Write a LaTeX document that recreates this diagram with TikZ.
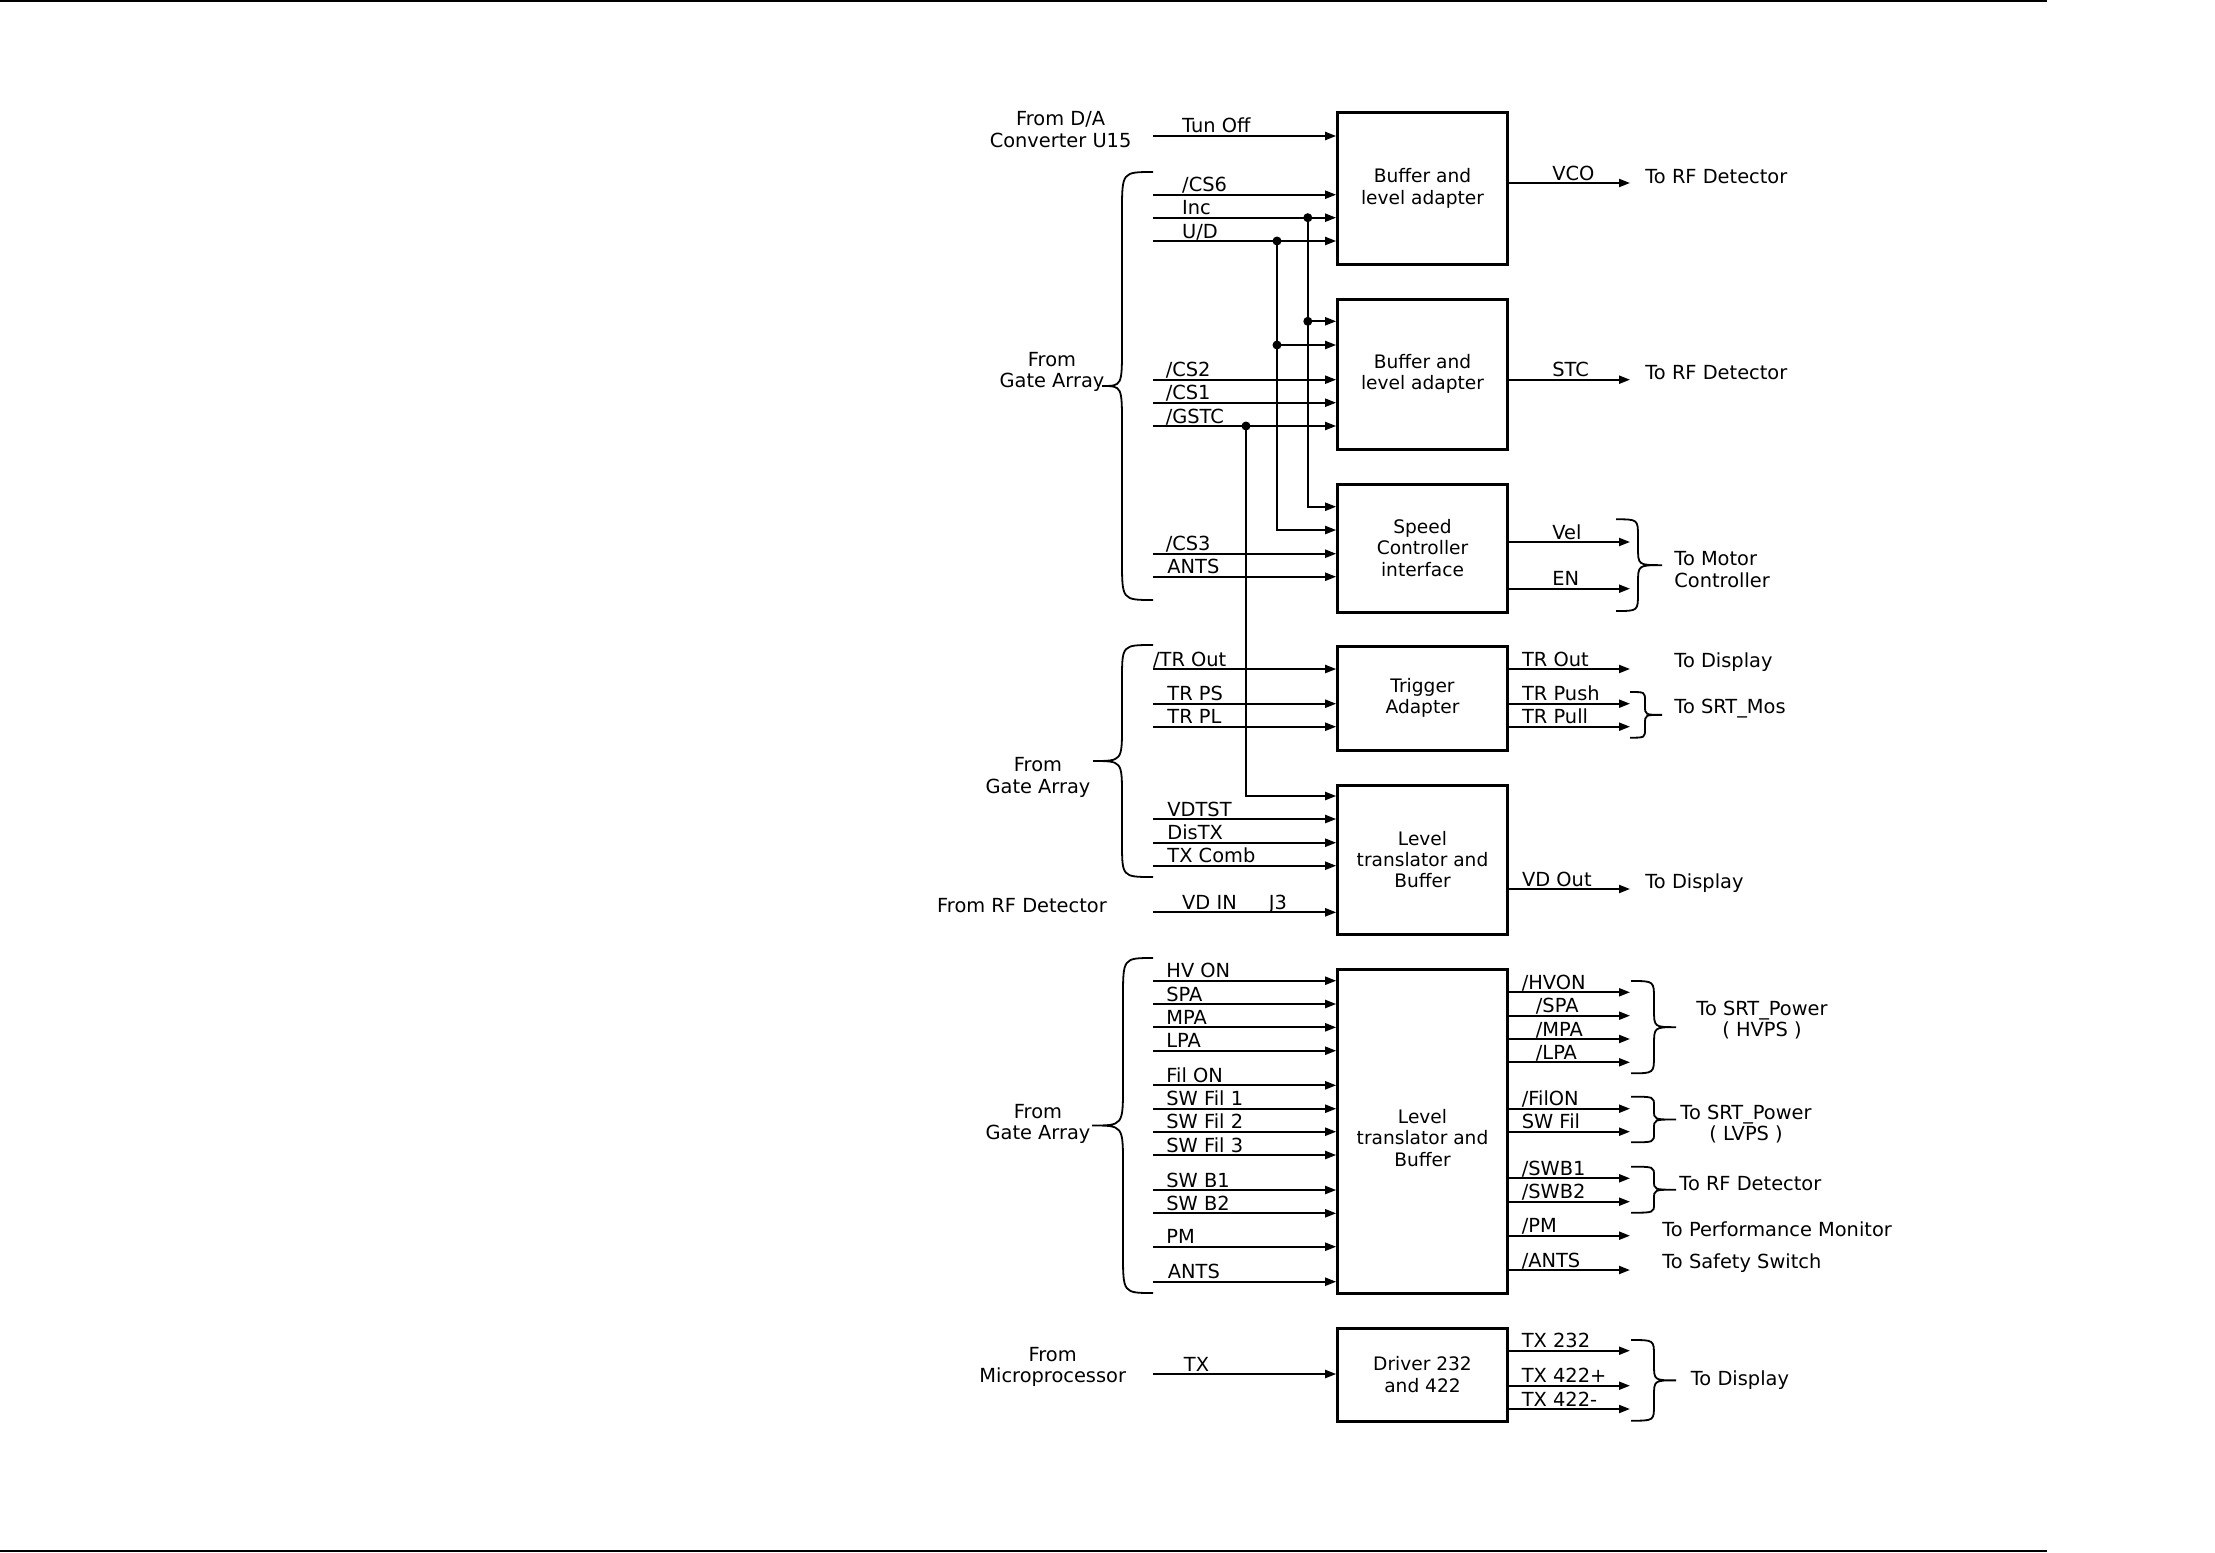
\documentclass[tikz,border=0pt]{standalone}
\usepackage{fontspec}
\setmainfont{DejaVu Sans}
\usetikzlibrary{arrows.meta}
\newcommand\sigin[5]{\coordinate (#1) at (1153,#2); \draw[sig] (#1) -- (#1 -| #5.west); \node[lbl] at (#3,#2) {#4};}
\newcommand\sigout[5]{\coordinate (#1) at (1630,#2); \draw[sig] (#1 -| #5.east) -- (#1); \node[lbl] at (#3,#2) {#4};}
\newcommand\brc[6]{\draw[brcline] (#1,#4) .. controls (#2,#4) .. (#2,#4+#6) -- (#2,{(#4+#5)/2-#6}) .. controls (#2,{(#4+#5)/2}) .. (#3,{(#4+#5)/2}) .. controls (#2,{(#4+#5)/2}) .. (#2,{(#4+#5)/2+#6}) -- (#2,#5-#6) .. controls (#2,#5) .. (#1,#5);}
\begin{document}
\begin{tikzpicture}[x=0.5pt,y=-0.5pt,
  font=\fontsize{9.3}{10.7}\selectfont,
  sig/.style={line width=1pt,-{Triangle[length=5.5pt,width=4pt]}},
  wire/.style={line width=1pt},
  box/.style={draw,line width=1.5pt,minimum width=84.8pt,align=center,inner sep=0pt},
  lbl/.style={anchor=base west,inner sep=0pt,yshift=1.5pt,font=\fontsize{9.7}{10.7}\selectfont},
  txt/.style={align=center,inner sep=0pt,font=\fontsize{9.7}{10.7}\selectfont},
  ltxt/.style={align=left,anchor=west,inner sep=0pt,font=\fontsize{9.7}{10.7}\selectfont},
  brcline/.style={line width=0.9pt},
  dot/.style={circle,fill,inner sep=0pt,minimum size=4.5pt}]
\useasboundingbox (0,0) rectangle (2215,1552);
\draw[line width=1.2pt] (0,1) -- (2047,1);
\draw[line width=1.2pt] (0,1551) -- (2047,1551);

% boxes
\node[box,minimum height=75.5pt] (b1) at (1422.5,188.5) {Buffer and\\level adapter};
\node[box,minimum height=75pt] (b2) at (1422.5,374) {Buffer and\\level adapter};
\node[box,minimum height=64pt] (b3) at (1422.5,548) {Speed\\Controller\\interface};
\node[box,minimum height=52pt] (b4) at (1422.5,698) {Trigger\\Adapter};
\node[box,minimum height=74.5pt] (b5) at (1422.5,859.5) {Level\\translator and\\Buffer};
\node[box,minimum height=162pt] (b6) at (1422.5,1131) {};
\node[align=center,inner sep=0pt] (b6t) at (1422.5,1138) {Level\\translator and\\Buffer};
\node[box,minimum height=46.5pt] (b7) at (1422.5,1374.5) {Driver 232\\and 422};

% inputs
\sigin{iTun}{136}{1181.8}{Tun Off}{b1}
\sigin{iCS6}{194.7}{1181.8}{/CS6}{b1}
\sigin{iInc}{217.7}{1181.8}{Inc}{b1}
\sigin{iUD}{241}{1181.8}{U/D}{b1}
\sigin{iCS2}{379.7}{1165.4}{/CS2}{b2}
\sigin{iCS1}{402.7}{1165.4}{/CS1}{b2}
\sigin{iGS}{426}{1165.4}{/GSTC}{b2}
\sigin{iCS3}{553.7}{1165.4}{/CS3}{b3}
\sigin{iANT}{576.7}{1167}{ANTS}{b3}
\sigin{iTRO}{669}{1152.7}{/TR Out}{b4}
\sigin{iTRPS}{703.7}{1167}{TR PS}{b4}
\sigin{iTRPL}{726.7}{1167}{TR PL}{b4}
\sigin{iVDT}{819}{1167}{VDTST}{b5}
\sigin{iDis}{842.7}{1167}{DisTX}{b5}
\sigin{iTXC}{865.7}{1167}{TX Comb}{b5}
\sigin{iVDI}{912.3}{1181.8}{VD IN}{b5}
\node[lbl] (j3) at (1268.5,912.3) {J3};
\sigin{iHV}{980.7}{1166}{HV ON}{b6}
\sigin{iSPA}{1004}{1166}{SPA}{b6}
\sigin{iMPA}{1027.3}{1166}{MPA}{b6}
\sigin{iLPA}{1050.7}{1166}{LPA}{b6}
\sigin{iFil}{1085.3}{1166}{Fil ON}{b6}
\sigin{iSW1}{1108.7}{1166}{SW Fil 1}{b6}
\sigin{iSW2}{1131.7}{1166}{SW Fil 2}{b6}
\sigin{iSW3}{1155}{1166}{SW Fil 3}{b6}
\sigin{iB1}{1190}{1166}{SW B1}{b6}
\sigin{iB2}{1213.3}{1166}{SW B2}{b6}
\sigin{iPM}{1246.7}{1166}{PM}{b6}
\sigin{iANT2}{1281.7}{1167.5}{ANTS}{b6}
\sigin{iTX}{1374}{1183.5}{TX}{b7}

% branches
\node[dot] (dInc) at (1307.8,217.7) {};
\node[dot] (dUD) at (1277,241) {};
\node[dot] (dGS) at (1246,426) {};
\node[dot] (dInc2) at (1307.8,321.3) {};
\node[dot] (dUD2) at (1277,345) {};
\coordinate (cInc3) at (1307.8,506.7);
\coordinate (cUD3) at (1277,530);
\coordinate (cGS5) at (1246,796);
\draw[sig] (dInc.center) -- (cInc3) -- (cInc3 -| b3.west);
\draw[sig] (dUD.center) -- (cUD3) -- (cUD3 -| b3.west);
\draw[sig] (dGS.center) -- (cGS5) -- (cGS5 -| b5.west);
\draw[sig] (dInc2.center) -- (dInc2.center -| b2.west);
\draw[sig] (dUD2.center) -- (dUD2.center -| b2.west);

% outputs
\sigout{oVCO}{183}{1552}{VCO}{b1}
\sigout{oSTC}{379.7}{1552}{STC}{b2}
\sigout{oVel}{542}{1552}{Vel}{b3}
\sigout{oEN}{588.7}{1552}{EN}{b3}
\sigout{oTRO}{669}{1521.7}{TR Out}{b4}
\sigout{oTRP}{703.7}{1521.7}{TR Push}{b4}
\sigout{oTRL}{726.7}{1521.7}{TR Pull}{b4}
\sigout{oVDO}{889}{1521.7}{VD Out}{b5}
\sigout{oHV}{992.3}{1521.4}{/HVON}{b6}
\sigout{oSPA}{1015.7}{1535.5}{/SPA}{b6}
\sigout{oMPA}{1039}{1535.5}{/MPA}{b6}
\sigout{oLPA}{1062.3}{1535.5}{/LPA}{b6}
\sigout{oFil}{1108.7}{1521.4}{/FilON}{b6}
\sigout{oSWF}{1131.7}{1521.4}{SW Fil}{b6}
\sigout{oB1}{1178.3}{1521.4}{/SWB1}{b6}
\sigout{oB2}{1201.7}{1521.4}{/SWB2}{b6}
\sigout{oPM}{1235.7}{1521.4}{/PM}{b6}
\sigout{oANT}{1270}{1521.4}{/ANTS}{b6}
\sigout{oT1}{1350.7}{1521.4}{TX 232}{b7}
\sigout{oT2}{1385.7}{1521.4}{TX 422+}{b7}
\sigout{oT3}{1409}{1521.4}{TX 422-}{b7}

% left texts
\node[txt] (tDA) at (1060.6,129.5) {From D/A\\Converter U15};
\node[txt] (tGA1) at (1052,372) {From\\Gate Array};
\node[txt] (tGA2) at (1038,777.5) {From\\Gate Array};
\node[txt] (tRF) at (1022,906) {From RF Detector};
\node[txt] (tGA3) at (1038,1124) {From\\Gate Array};
\node[txt] (tMP) at (1052.7,1367) {From\\Microprocessor};

% right texts
\node[ltxt] (r1) at (1645,177) {To RF Detector};
\node[ltxt] (r2) at (1645,373) {To RF Detector};
\node[ltxt] (r3) at (1674,569.5) {To Motor\\Controller};
\node[ltxt] (r4) at (1674,662.3) {To Display};
\node[ltxt] (r5) at (1674,708.3) {To SRT\_Mos};
\node[ltxt] (r6) at (1645,883.3) {To Display};
\node[txt] (r7) at (1762,1020) {To SRT\_Power\\( HVPS )};
\node[txt] (r8) at (1746,1124) {To SRT\_Power\\( LVPS )};
\node[ltxt] (r9) at (1679,1183.3) {To RF Detector};
\node[ltxt] (r10) at (1662,1229.3) {To Performance Monitor};
\node[ltxt] (r11) at (1662,1263.3) {To Safety Switch};
\node[ltxt] (r12) at (1690.5,1380) {To Display};

% braces
\brc{1153}{1122}{1102}{172}{600}{40}
\brc{1153}{1122}{1093}{645}{877}{35}
\brc{1153}{1123}{1092}{958}{1293}{40}
\brc{1616}{1638}{1662}{519.3}{611}{18}
\brc{1630}{1645}{1662}{692}{737.7}{9}
\brc{1631}{1654}{1676}{981}{1073.3}{18}
\brc{1631}{1654}{1676}{1096.7}{1142.3}{9}
\brc{1631}{1654}{1676}{1166.7}{1212.7}{9}
\brc{1631}{1654}{1676}{1340}{1420.7}{16}
\end{tikzpicture}
\end{document}
